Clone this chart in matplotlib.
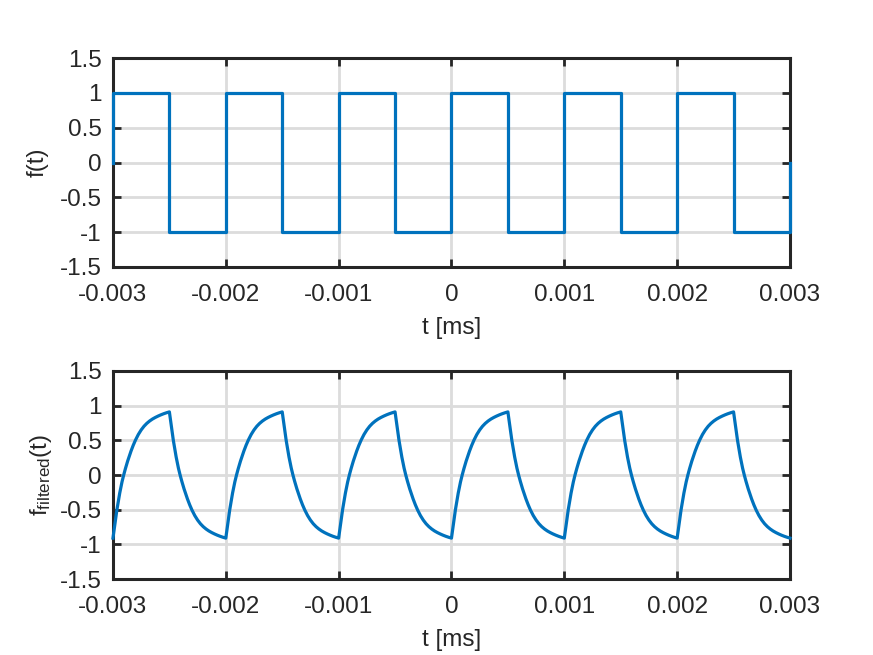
import matplotlib.pyplot as plt

plt.rcParams['font.family'] = ['Liberation Sans', 'DejaVu Sans']
plt.rcParams['mathtext.default'] = 'regular'

# square wave: switching instants and levels between them
edges = [-0.003, -0.0025, -0.002, -0.0015, -0.001, -0.0005, 0.0,
         0.0005, 0.001, 0.0015, 0.002, 0.0025, 0.003]
levels = [1, -1, 1, -1, 1, -1, 1, -1, 1, -1, 1, -1]
start_val = 0
end_val = 0

# filtered signal: one charging half period (time since edge, value)
half_dt = [0, 0.00001, 0.00002, 0.000035, 0.00006, 0.00008, 0.000095, 0.00011,
           0.00013, 0.00016, 0.00018, 0.0002, 0.000225, 0.00025, 0.000275,
           0.0003, 0.000325, 0.00035, 0.000375, 0.0004, 0.000425, 0.00045,
           0.000475, 0.0005]
half_val = [-0.91, -0.79, -0.66, -0.5, -0.26, -0.1, 0.0, 0.09,
            0.2, 0.345, 0.43, 0.505, 0.585, 0.65, 0.703,
            0.745, 0.779, 0.807, 0.83, 0.85, 0.868, 0.884,
            0.898, 0.91]

xticks = [-0.003, -0.002, -0.001, 0, 0.001, 0.002, 0.003]
xticklabels = ['-0.003', '-0.002', '-0.001', '0', '0.001', '0.002', '0.003']
yticks = [-1.5, -1, -0.5, 0, 0.5, 1, 1.5]
yticklabels = ['-1.5', '-1', '-0.5', '0', '0.5', '1', '1.5']

# build step polyline
sq_t = [edges[0]]
sq_y = [start_val]
for i, lv in enumerate(levels):
    sq_t += [edges[i], edges[i + 1]]
    sq_y += [lv, lv]
sq_t.append(edges[-1])
sq_y.append(end_val)

# build filtered polyline (charge on high half, discharge on low half)
ft_t, ft_y = [], []
for i, lv in enumerate(levels):
    for dt, v in zip(half_dt, half_val):
        ft_t.append(edges[i] + dt)
        ft_y.append(v * lv)

blue = '#0072BD'
dark = '#262626'
fs = 17.5

fig = plt.figure(figsize=(8.73, 6.55), dpi=100)
ax1 = fig.add_axes([0.1294, 0.5924, 0.7755, 0.319])
ax2 = fig.add_axes([0.1294, 0.1160, 0.7755, 0.3176])

ax1.plot(sq_t, sq_y, color=blue, lw=2.3, clip_on=False, zorder=5)
ax2.plot(ft_t, ft_y, color=blue, lw=2.3, clip_on=False, zorder=5)

for ax in (ax1, ax2):
    ax.set_xlim(-0.003, 0.003)
    ax.set_ylim(-1.5, 1.5)
    ax.set_xticks(xticks)
    ax.set_xticklabels(xticklabels)
    ax.set_yticks(yticks)
    ax.set_yticklabels(yticklabels)
    ax.grid(True, color='#dcdcdc', lw=2)
    ax.set_axisbelow(True)
    for s in ax.spines.values():
        s.set_color(dark)
        s.set_linewidth(2.2)
    ax.tick_params(direction='in', length=6, width=2, color=dark, labelcolor=dark,
                   labelsize=fs, top=True, right=True)
    ax.tick_params(axis='x', pad=12)
    ax.tick_params(axis='y', pad=8)
    ax.set_xlabel('t [ms]', fontsize=fs, color=dark, labelpad=8)

ax1.set_ylabel('f(t)', fontsize=fs, color=dark, labelpad=8)
ax2.set_ylabel('$f_{filtered}(t)$', fontsize=fs, color=dark, labelpad=4)

fig.savefig('out.png', dpi=100)
